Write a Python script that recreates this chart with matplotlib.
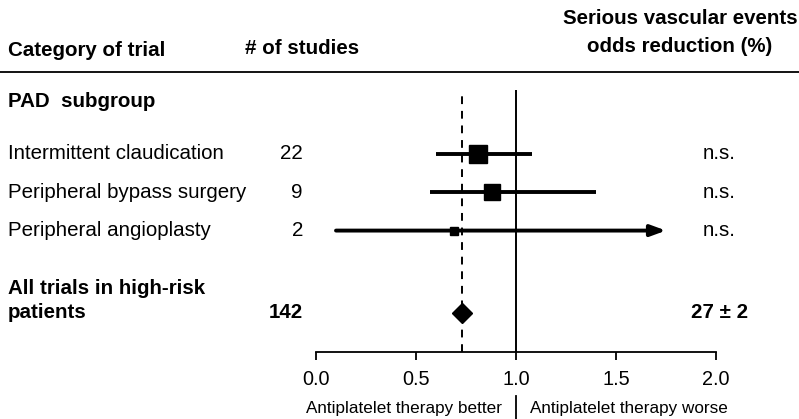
import matplotlib
matplotlib.use("Agg")
import matplotlib.pyplot as plt
from matplotlib.transforms import blended_transform_factory

plt.rcParams['font.family'] = ['Liberation Sans', 'DejaVu Sans']

# ---- data ----
categories = ["Intermittent claudication", "Peripheral bypass surgery", "Peripheral angioplasty"]
n_studies = [22, 9, 2]
odds_ratio = [0.81, 0.88, 0.69]
ci_low = [0.60, 0.57, 0.10]
ci_high = [1.08, 1.40, 1.75]
ci_truncated = [False, False, True]
significance = ["n.s.", "n.s.", "n.s."]

overall_label = ["All trials in high-risk", "patients"]
overall_studies = 142
overall_reduction = 27
overall_se = 2
overall_or = 1 - overall_reduction / 100.0

xticks = [0.0, 0.5, 1.0, 1.5, 2.0]

# ---- layout ----
W, H = 799, 419
fig = plt.figure(figsize=(W / 100, H / 100), dpi=100)

# overlay for free text, in pixel units
ov = fig.add_axes([0, 0, 1, 1])
ov.set_xlim(0, W)
ov.set_ylim(H, 0)
ov.axis('off')

# forest plot axes
ax_left, ax_right, ax_top, ax_bot = 316, 716, 90, 352
ax = fig.add_axes([ax_left / W, (H - ax_bot) / H, (ax_right - ax_left) / W, (ax_bot - ax_top) / H])
row_y = [0, 1, 2]
overall_y = 4.15
ax.set_xlim(0, 2)
ax.set_ylim(5.17, -1.67)
for s in ['top', 'right', 'left']:
    ax.spines[s].set_visible(False)
ax.spines['bottom'].set_linewidth(1.3)
ax.set_yticks([])
ax.set_xticks(xticks)
ax.set_xticklabels([f"{t:.1f}" for t in xticks])
ax.tick_params(axis='x', direction='out', length=6, width=1.3, pad=7, labelsize=14.3)
ax.patch.set_visible(False)

# reference lines
ax.axvline(1.0, color='black', lw=1.4, zorder=1)
ax.axvline(overall_or, color='black', lw=1.4, ls=(0, (4, 3.5)), zorder=1)

# study-category rows
marker_sizes = [13.5, 11, 5.8]
for y, lo, hi, orr, trunc, ms in zip(row_y, ci_low, ci_high, odds_ratio, ci_truncated, marker_sizes):
    if trunc:
        ax.annotate("", xy=(hi, y), xytext=(lo, y),
                    arrowprops=dict(arrowstyle='-|>,head_length=0.9,head_width=0.33',
                                    color='black', lw=2.8, shrinkA=0, shrinkB=0),
                    annotation_clip=False, zorder=2)
    else:
        ax.plot([lo, hi], [y, y], color='black', lw=2.8, solid_capstyle='butt', zorder=2)
    ax.plot([orr], [y], marker='s', ms=ms, color='black', zorder=3)

# overall estimate
ax.plot([overall_or], [overall_y], marker='D', ms=10.5, color='black', zorder=3, clip_on=False)

# ---- text ----
tr = blended_transform_factory(ov.transData, ax.transData)
fs = 14.8

ov.text(8, 51, "Category of trial", fontsize=fs, fontweight='bold', va='center', ha='left')
ov.text(245, 48, "# of studies", fontsize=fs, fontweight='bold', va='center', ha='left')
ov.text(680, 18, "Serious vascular events", fontsize=fs, fontweight='bold', va='center', ha='center')
ov.text(680, 47, "odds reduction (%)", fontsize=fs, fontweight='bold', va='center', ha='center')
ov.plot([0, W], [72, 72], color='black', lw=1.3)
ov.text(8, 101, "PAD  subgroup", fontsize=fs, fontweight='bold', va='center', ha='left')

for y, cat, n, sig in zip(row_y, categories, n_studies, significance):
    ov.text(8, y, cat, fontsize=fs, va='center', ha='left', transform=tr)
    ov.text(303, y, str(n), fontsize=fs, va='center', ha='right', transform=tr)
    ov.text(719, y, sig, fontsize=fs, va='center', ha='center', transform=tr)

ov.text(8, overall_y - 0.65, overall_label[0], fontsize=fs, fontweight='bold', va='center', ha='left',
        transform=tr)
ov.text(8, overall_y, overall_label[1], fontsize=fs, fontweight='bold', va='center', ha='left',
        transform=tr)
ov.text(303, overall_y, str(overall_studies), fontsize=fs, fontweight='bold', va='center', ha='right', transform=tr)
ov.text(720, overall_y, f"{overall_reduction} \u00b1 {overall_se}", fontsize=fs, fontweight='bold',
        va='center', ha='center', transform=tr)

# direction labels under the axis
xtr = blended_transform_factory(ax.transData, ov.transData)
ov.text(0.93, 408, "Antiplatelet therapy better", fontsize=12.3, va='center', ha='right', transform=xtr)
ov.text(1.07, 408, "Antiplatelet therapy worse", fontsize=12.3, va='center', ha='left', transform=xtr)
ov.plot([1.0, 1.0], [396, 419], color='black', lw=1.3, transform=xtr, clip_on=False)

fig.savefig("out.png", dpi=100)
